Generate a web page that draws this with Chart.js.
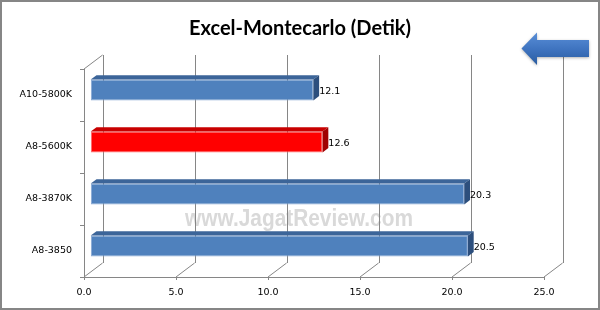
<!DOCTYPE html>
<html lang="id">
<head>
    <meta charset="UTF-8">
    <title>Excel-Montecarlo (Detik)</title>
    <script src="https://cdn.jsdelivr.net/npm/chart.js"></script>
    <style> body { margin: 0; background: #fff; } #wrap { width: 600px; height: 310px; } </style>
</head>
<body>
    <div id="wrap"><canvas id="chart" width="600" height="310"></canvas></div>

    <script>
        // data
        const categories = ['A10-5800K', 'A8-5600K', 'A8-3870K', 'A8-3850'];
        const waktu = [12.1, 12.6, 20.3, 20.5];
        const xTicks = [0, 5, 10, 15, 20, 25];
        const highlight = 'A8-5600K';

        // kedalaman 3D
        const wallDx = 18.6, wallDy = -14;
        const barDx = 6.7, barDy = -5;
        const faceDx = 5.8, faceDy = -4.4;
        const fontKecil = "'DejaVu Sans', sans-serif";

        const isRed = categories.map(c => c === highlight);
        const frontCol = isRed.map(r => r ? '#ff0000' : '#4f81bd');
        const edgeCol = isRed.map(r => r ? '#ff7070' : '#86a6d4');
        const topCol = isRed.map(r => r ? '#c80000' : '#3c6599');
        const sideCol = isRed.map(r => r ? '#a00000' : '#2d4f7d');

        const line = (ctx, x1, y1, x2, y2) => { ctx.beginPath(); ctx.moveTo(x1, y1); ctx.lineTo(x2, y2); ctx.stroke(); };
        const px = v => Math.round(v) + 0.5;

        const background = {
            id: 'background',
            beforeDraw(chart) {
                const ctx = chart.ctx;
                ctx.save();
                ctx.fillStyle = '#fff';
                ctx.fillRect(0, 0, chart.width, chart.height);
                // watermark
                ctx.font = "bold 23px 'Liberation Sans', Arial, sans-serif";
                const txt = 'www.JagatReview.com';
                const w = ctx.measureText(txt).width;
                ctx.translate(299, 226);
                ctx.scale(228 / w, 1);
                ctx.textAlign = 'center';
                ctx.textBaseline = 'alphabetic';
                ctx.fillStyle = '#d9d9d9';
                ctx.fillText(txt, 0, 0);
                ctx.restore();
            },
            afterDraw(chart) {
                const ctx = chart.ctx;
                ctx.save();
                // panah
                const g = ctx.createLinearGradient(0, 32, 0, 66);
                g.addColorStop(0, '#5a8fd8');
                g.addColorStop(0.5, '#3f74c0');
                g.addColorStop(1, '#285a9e');
                ctx.fillStyle = g;
                ctx.shadowColor = 'rgba(0,0,0,0.3)';
                ctx.shadowBlur = 3;
                ctx.shadowOffsetY = 1;
                ctx.beginPath();
                ctx.moveTo(521.5, 48.5);
                ctx.lineTo(537, 32.5);
                ctx.lineTo(537, 40);
                ctx.lineTo(589, 40);
                ctx.lineTo(589, 57);
                ctx.lineTo(537, 57);
                ctx.lineTo(537, 65);
                ctx.closePath();
                ctx.fill();
                ctx.restore();
                // bingkai
                ctx.save();
                ctx.strokeStyle = '#868686';
                ctx.lineWidth = 2;
                ctx.strokeRect(1, 1, chart.width - 2, chart.height - 2);
                ctx.restore();
            }
        };

        const walls = {
            id: 'walls',
            beforeDatasetsDraw(chart) {
                const { ctx, chartArea: a, scales: { x } } = chart;
                ctx.save();
                ctx.strokeStyle = '#868686';
                ctx.lineWidth = 1;
                xTicks.forEach(v => {
                    const fx = x.getPixelForValue(v);
                    line(ctx, px(fx + wallDx), a.top + wallDy, px(fx + wallDx), a.bottom + wallDy);
                    line(ctx, fx, a.bottom, fx + wallDx, a.bottom + wallDy);
                    line(ctx, px(fx), a.bottom, px(fx), a.bottom + 3);
                });
                // dinding kiri
                line(ctx, px(a.left), a.top, px(a.left), a.bottom);
                line(ctx, a.left, a.top, a.left + wallDx, a.top + wallDy);
                line(ctx, a.left, px(a.bottom), a.right, px(a.bottom));
                const n = categories.length;
                for (let i = 0; i <= n; i++) {
                    const yy = px(a.top + (a.bottom - a.top) * i / n);
                    line(ctx, a.left - 4, yy, a.left, yy);
                }
                ctx.restore();
                ctx.save();
                ctx.translate(barDx, barDy);
            },
            afterDatasetsDraw(chart) {
                const ctx = chart.ctx;
                const meta = chart.getDatasetMeta(0);
                meta.data.forEach((bar, i) => {
                    const { x: ex, y: cy, base, height } = bar.getProps(['x', 'y', 'base', 'height'], true);
                    const t = cy - height / 2, b = cy + height / 2;
                    ctx.fillStyle = topCol[i];
                    ctx.beginPath();
                    ctx.moveTo(base, t); ctx.lineTo(base + faceDx, t + faceDy);
                    ctx.lineTo(ex + faceDx, t + faceDy); ctx.lineTo(ex, t);
                    ctx.closePath(); ctx.fill();
                    ctx.fillStyle = sideCol[i];
                    ctx.beginPath();
                    ctx.moveTo(ex, t); ctx.lineTo(ex + faceDx, t + faceDy);
                    ctx.lineTo(ex + faceDx, b + faceDy); ctx.lineTo(ex, b);
                    ctx.closePath(); ctx.fill();
                });
                ctx.restore();
                // label nilai
                ctx.save();
                ctx.font = '9.5px ' + fontKecil;
                ctx.fillStyle = '#000';
                ctx.textAlign = 'left';
                ctx.textBaseline = 'middle';
                meta.data.forEach((bar, i) => {
                    ctx.fillText(waktu[i].toFixed(1), bar.x + barDx + faceDx, bar.y + barDy + 1.5);
                });
                ctx.restore();
            }
        };

        new Chart(document.getElementById('chart'), {
            type: 'bar',
            data: {
                labels: categories,
                datasets: [{
                    data: waktu,
                    backgroundColor: frontCol,
                    borderColor: edgeCol,
                    borderWidth: 1,
                    borderSkipped: false,
                    categoryPercentage: 1,
                    barPercentage: 0.4
                }]
            },
            options: {
                indexAxis: 'y',
                responsive: false,
                animation: false,
                layout: { padding: 0 },
                plugins: {
                    legend: { display: false },
                    tooltip: { enabled: false },
                    title: {
                        display: true,
                        text: 'Excel-Montecarlo (Detik)',
                        color: '#000',
                        font: { family: "Lato, 'Open Sans', sans-serif", size: 20, weight: 'bold' },
                        padding: { top: 16.5, bottom: 28.5 }
                    }
                },
                scales: {
                    x: {
                        min: 0, max: 25,
                        afterBuildTicks: s => { s.ticks = xTicks.map(v => ({ value: v })); },
                        afterFit: s => { s.height = 33; },
                        grid: { display: false, drawTicks: false },
                        border: { display: false },
                        ticks: { color: '#000', padding: 10, font: { family: fontKecil, size: 9.5 }, callback: v => Number(v).toFixed(1) }
                    },
                    y: {
                        afterFit: s => { s.width = 84; },
                        grid: { display: false, drawTicks: false },
                        border: { display: false },
                        ticks: { color: '#000', padding: 12, font: { family: fontKecil, size: 9.5 } }
                    },
                    // ruang kosong di kanan area plot
                    kanan: {
                        type: 'category',
                        position: 'right',
                        afterFit: s => { s.width = 56; },
                        grid: { display: false, drawTicks: false },
                        border: { display: false },
                        ticks: { display: false }
                    }
                }
            },
            plugins: [background, walls]
        });
    </script>
</body>
</html>
